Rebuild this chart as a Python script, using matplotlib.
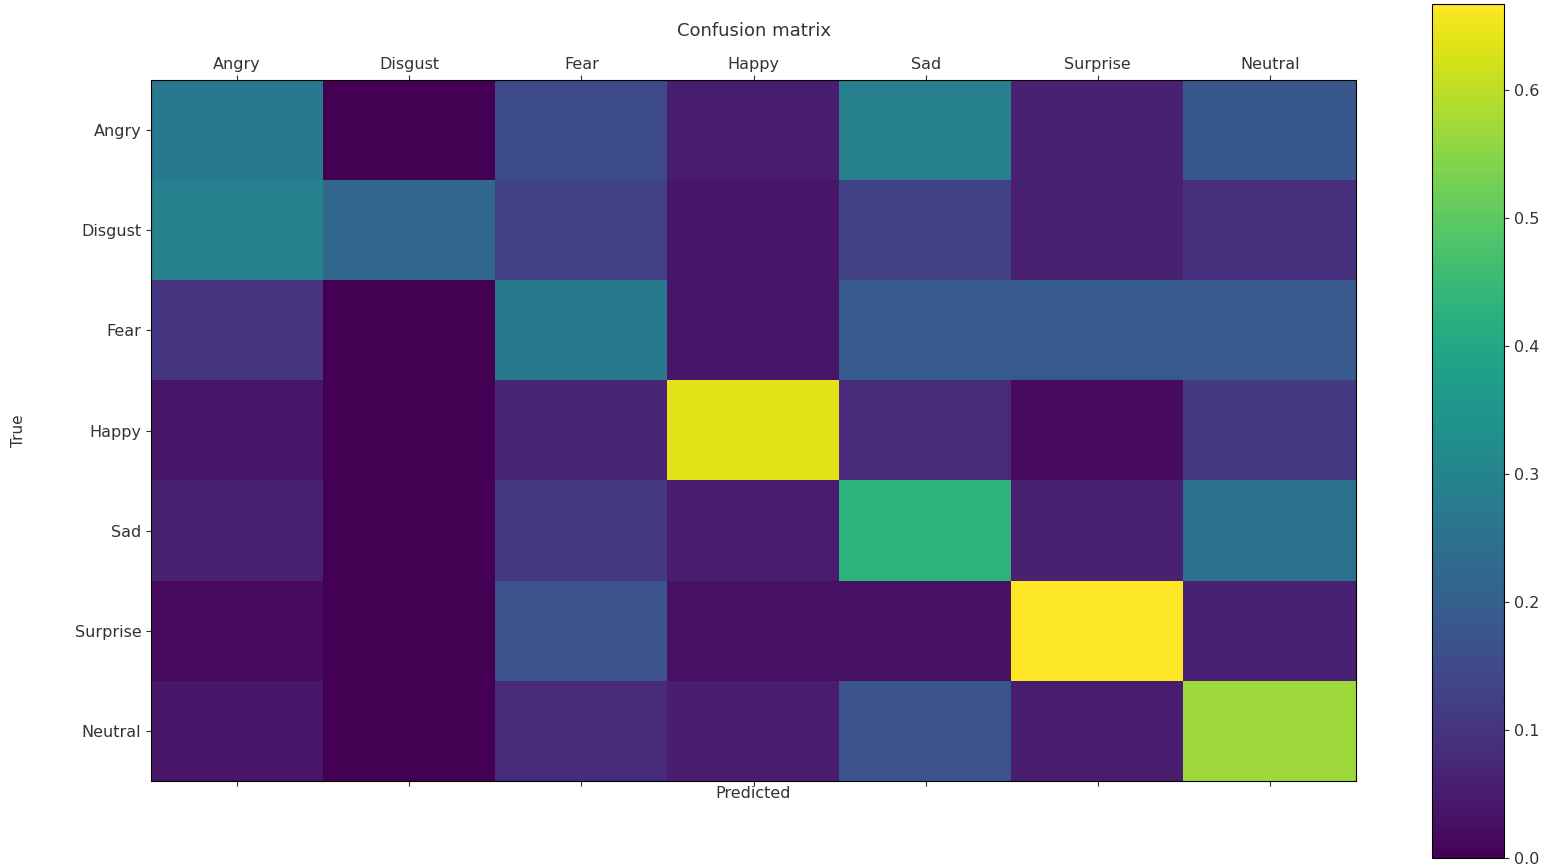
import matplotlib
matplotlib.use('Agg')
import matplotlib.pyplot as plt
import numpy as np

# emotion classes, same order on both axes
classes = ['Angry', 'Disgust', 'Fear', 'Happy', 'Sad', 'Surprise', 'Neutral']

# normalized confusion matrix, rows = true, cols = predicted
row_angry = [0.27, 0.00, 0.15, 0.05, 0.29, 0.06, 0.18]
row_disgust = [0.29, 0.22, 0.13, 0.04, 0.13, 0.06, 0.09]
row_fear = [0.10, 0.00, 0.27, 0.04, 0.19, 0.19, 0.19]
row_happy = [0.04, 0.00, 0.07, 0.64, 0.08, 0.02, 0.11]
row_sad = [0.06, 0.00, 0.11, 0.05, 0.43, 0.06, 0.25]
row_surprise = [0.02, 0.00, 0.17, 0.03, 0.03, 0.667, 0.06]
row_neutral = [0.04, 0.00, 0.08, 0.05, 0.17, 0.05, 0.57]

cm = np.array([row_angry, row_disgust, row_fear, row_happy,
               row_sad, row_surprise, row_neutral])

txt = '#333333'

fig = plt.figure(figsize=(15.59, 8.67), dpi=100)
ax = fig.add_axes([0.0969, 0.0992, 0.7729, 0.8085])
cax = fig.add_axes([0.9185, 0.0104, 0.0462, 0.985])

im = ax.imshow(cm, cmap='viridis', aspect='auto', interpolation='nearest')
ax.set_title('Confusion matrix', fontsize=13, color=txt, pad=32)

ticks = np.arange(len(classes))
ax.set_xticks(ticks)
ax.set_xticklabels(classes)
ax.set_yticks(ticks)
ax.set_yticklabels(classes)
ax.tick_params(axis='x', top=True, bottom=True, labeltop=True, labelbottom=False,
               labelsize=11.5, colors=txt, pad=2)
ax.tick_params(axis='y', labelsize=11.5, colors=txt)
ax.set_xlabel('Predicted', fontsize=11.5, color=txt, labelpad=0)
ax.set_ylabel('True', fontsize=11, color=txt)
ax.yaxis.set_label_coords(-0.104, 0.5)

cb = fig.colorbar(im, cax=cax)
cb.set_ticks([0.0, 0.1, 0.2, 0.3, 0.4, 0.5, 0.6])
cb.ax.tick_params(labelsize=11.5, colors=txt)

fig.savefig('out.png', dpi=100)
